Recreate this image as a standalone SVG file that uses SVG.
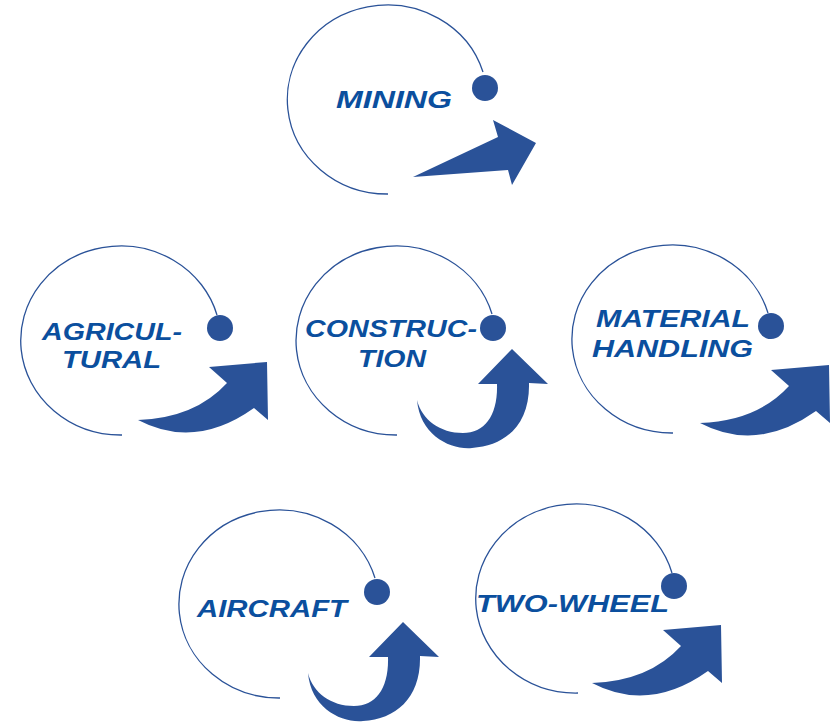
<svg xmlns="http://www.w3.org/2000/svg" xmlns:xlink="http://www.w3.org/1999/xlink" width="830" height="722" viewBox="0 0 830 722">
<style>
.ring{fill:none;stroke:#2a5298;stroke-width:1.3}
.dot{fill:#2a5298}
.arr{fill:#2a5298}
.lbl{font-family:"Liberation Sans",Arial,sans-serif;font-weight:bold;font-style:italic;font-size:24px;fill:#0b4f9e}
</style>
<defs>
<path id="swoosh" d="M138,420 Q195,450 254,408 L268,420 L267,362 L209,367 L227,383 Q195,418 138,420 Z"/>
<path id="uturn" d="M417,400 C420,435 450,450 472,448 C505,446 530,425 529,383 L548,384 L512,349 L478,384 L497,384 C498,415 485,433 463,433 C440,433 422,420 417,400 Z"/>
</defs>
<rect width="830" height="722" fill="#ffffff"/>
<g id="connectors"></g>
<g id="mining">
<path class="ring" d="M388,194 A100,94.5 0 1 1 483,72"/>
<circle class="dot" cx="485" cy="88" r="13"/>
<polygon class="arr" points="413,177 498,137 493,120 536,143 512,185 508,170"/>
<text class="lbl" x="336" y="108" textLength="116" lengthAdjust="spacingAndGlyphs">MINING</text>
</g>
<g id="agricultural">
<path class="ring" d="M122,435 A100,94.5 0 1 1 217,315"/>
<circle class="dot" cx="220" cy="328" r="13"/>
<use class="arr" xlink:href="#swoosh"/>
<text class="lbl" x="42" y="340" textLength="140" lengthAdjust="spacingAndGlyphs">AGRICUL-</text>
<text class="lbl" x="62" y="368" textLength="99" lengthAdjust="spacingAndGlyphs">TURAL</text>
</g>
<g id="construction">
<path class="ring" d="M397,435 A100,94.5 0 1 1 492,314"/>
<circle class="dot" cx="493" cy="328" r="13"/>
<use class="arr" xlink:href="#uturn"/>
<text class="lbl" x="305" y="337" textLength="172" lengthAdjust="spacingAndGlyphs">CONSTRUC-</text>
<text class="lbl" x="358" y="367" textLength="68" lengthAdjust="spacingAndGlyphs">TION</text>
</g>
<g id="material-handling">
<path class="ring" d="M673,433 A100,94 0 1 1 768,313"/>
<circle class="dot" cx="771" cy="326" r="13"/>
<use class="arr" xlink:href="#swoosh" transform="translate(562,3)"/>
<text class="lbl" x="596" y="327" textLength="154" lengthAdjust="spacingAndGlyphs">MATERIAL</text>
<text class="lbl" x="592" y="357" textLength="161" lengthAdjust="spacingAndGlyphs">HANDLING</text>
</g>
<g id="aircraft">
<path class="ring" d="M280,698 A100,94 0 1 1 375,578"/>
<circle class="dot" cx="377" cy="592" r="13"/>
<use class="arr" xlink:href="#uturn" transform="translate(-109,273)"/>
<text class="lbl" x="197" y="617" textLength="150" lengthAdjust="spacingAndGlyphs">AIRCRAFT</text>
</g>
<g id="two-wheel">
<path class="ring" d="M578,693 A100,94.5 0 1 1 672,573"/>
<circle class="dot" cx="674" cy="586" r="13"/>
<use class="arr" xlink:href="#swoosh" transform="translate(454,263)"/>
<text class="lbl" x="476" y="612" textLength="193" lengthAdjust="spacingAndGlyphs">TWO-WHEEL</text>
</g>
</svg>
